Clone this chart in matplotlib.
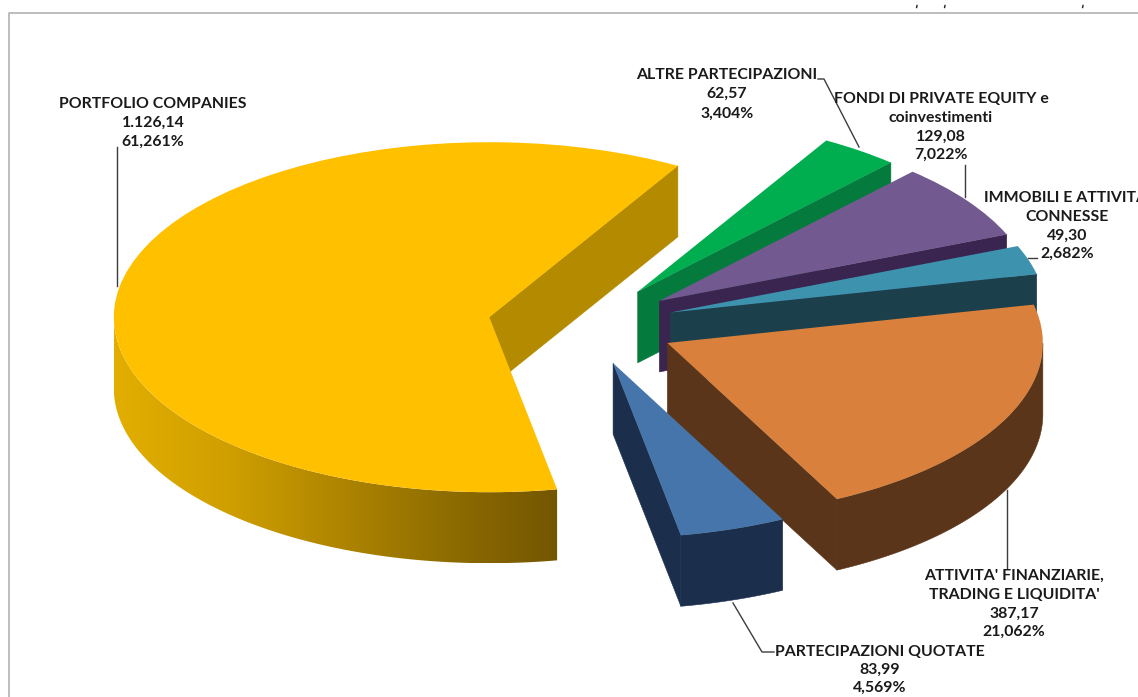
import numpy as np
import matplotlib
matplotlib.use("Agg")
import matplotlib.pyplot as plt
from matplotlib.colors import LinearSegmentedColormap
from matplotlib.lines import Line2D
from matplotlib.patches import Polygon

plt.rcParams['font.family'] = ['Lato', 'DejaVu Sans']

# slices, clockwise from the big one
names = [
    ["PORTFOLIO COMPANIES"],
    ["ALTRE PARTECIPAZIONI"],
    ["FONDI DI PRIVATE EQUITY e", "coinvestimenti"],
    ["IMMOBILI E ATTIVITA'", "CONNESSE"],
    ["ATTIVITA' FINANZIARIE,", "TRADING E LIQUIDITA'"],
    ["PARTECIPAZIONI QUOTATE"],
]
values = [1126.14, 62.57, 129.08, 49.30, 387.17, 83.99]
shares = [61.261, 3.404, 7.022, 2.682, 21.062, 4.569]

top_colors = ["#ffc000", "#00ae50", "#725a91", "#3d92ae", "#d9813c", "#4575ab"]
wall_colors = ["#d9a800", "#047a3c", "#3a2450", "#1c3f4c", "#5a3519", "#1b2f4d"]
cut_colors = ["#b38a00", "#047a3c", "#3a2450", "#1c3f4c", "#5a3519", "#1b2f4d"]
explode = [0.26, 0.235, 0.24, 0.237, 0.241, 0.23]

W, H = 1138, 697
CX, CY = 585.5, 325   # pie centre in pixels
RX, RY = 375.5, 175   # squashed radii in pixels
DEPTH = 71 / RY


def fmt_value(v):
    return f"{v:,.2f}".replace(",", "#").replace(".", ",").replace("#", ".")


def fmt_share(s):
    return f"{s:.3f}%".replace(".", ",")


def fx(x):
    return x / W


def fy(y):
    return 1 - y / H


fig = plt.figure(figsize=(W / 100, H / 100), dpi=100, facecolor="white")
ax = fig.add_axes([0, 0, 1, 1])

wedges, _ = ax.pie(values, explode=explode, colors=top_colors, startangle=-79.6,
                   counterclock=False, wedgeprops={"linewidth": 0})

# pie() forces equal aspect, undo it so the circle becomes a tilted ellipse
ax.set_aspect("auto")

yellow_ramp = LinearSegmentedColormap.from_list(
    "yellow_wall", ["#e2ae00", "#d0a000", "#b08600", "#8f6d00", "#735600"])

for i, w in enumerate(wedges):
    base = i + 1
    w.set_zorder(base + 0.5)
    cx, cy = w.center
    t1, t2 = w.theta1, w.theta2

    # straight cut faces, only the ones turned towards the viewer
    for t, normal in ((t1, t1 - 90), (t2, t2 + 90)):
        if np.sin(np.radians(normal)) < 0:
            ex = cx + np.cos(np.radians(t))
            ey = cy + np.sin(np.radians(t))
            ax.add_patch(Polygon([(cx, cy), (ex, ey), (ex, ey - DEPTH), (cx, cy - DEPTH)],
                                 closed=True, fc=cut_colors[i], ec=cut_colors[i], lw=0.4,
                                 zorder=base))

    # rim, front half of the ellipse only
    ang = np.radians(np.linspace(t1, t2, 500))
    ang = ang[np.sin(ang) <= 0]
    if len(ang) < 2:
        continue
    xs = cx + np.cos(ang)
    ys = cy + np.sin(ang)
    rim = np.column_stack([np.r_[xs, xs[::-1]], np.r_[ys, ys[::-1] - DEPTH]])
    if i == 0:
        patch = Polygon(rim, closed=True, transform=ax.transData)
        im = ax.imshow(np.linspace(0, 1, 256)[None, :], cmap=yellow_ramp, aspect="auto",
                       extent=[xs.min(), xs.max(), rim[:, 1].min(), rim[:, 1].max()],
                       zorder=base + 0.2)
        im.set_clip_path(patch)
    else:
        ax.add_patch(Polygon(rim, closed=True, fc=wall_colors[i], ec=wall_colors[i], lw=0.4,
                             zorder=base + 0.2))

ax.set_xlim(-CX / RX, (W - CX) / RX)
ax.set_ylim(-(H - CY) / RY, CY / RY)
ax.axis("off")

# outer chart border, runs off the canvas
fig.add_artist(Line2D([fx(9), fx(9), fx(W)], [fy(H), fy(13), fy(13)],
                      color="#bdbdbd", lw=1.4))
for x in (917, 945, 1083):
    fig.add_artist(Line2D([fx(x), fx(x - 0.4)], [fy(5.5), fy(7.5)], color="#222222", lw=1.0))

# leader lines
leaders = [
    [(117, 147), (117, 286)],
    [(818, 79), (824, 79), (859, 147)],
    [(965, 165), (965, 197)],
    [(1028, 258), (1037, 258)],
    [(1007, 490), (1007, 568)],
    [(733, 603), (762, 652), (774, 652)],
]
for pts in leaders:
    fig.add_artist(Line2D([fx(p[0]) for p in pts], [fy(p[1]) for p in pts],
                          color="#3c3c3c", lw=1.0))

# label blocks: centre x and the y of each line
label_x = [153, 727, 941, 1067, 1014, 880]
label_y = [
    [104, 123, 142],
    [75, 94, 114],
    [99, 118, 137, 155],
    [198, 217, 236, 254],
    [576, 595, 614, 632],
    [652, 670, 688],
]
for i in range(len(values)):
    lines = names[i] + [fmt_value(values[i]), fmt_share(shares[i])]
    for txt, y in zip(lines, label_y[i]):
        fig.text(fx(label_x[i]), fy(y), txt, ha="center", va="center",
                 fontsize=11.4, fontweight="bold", color="#1a1a1a")

fig.savefig("out.png", dpi=100)
